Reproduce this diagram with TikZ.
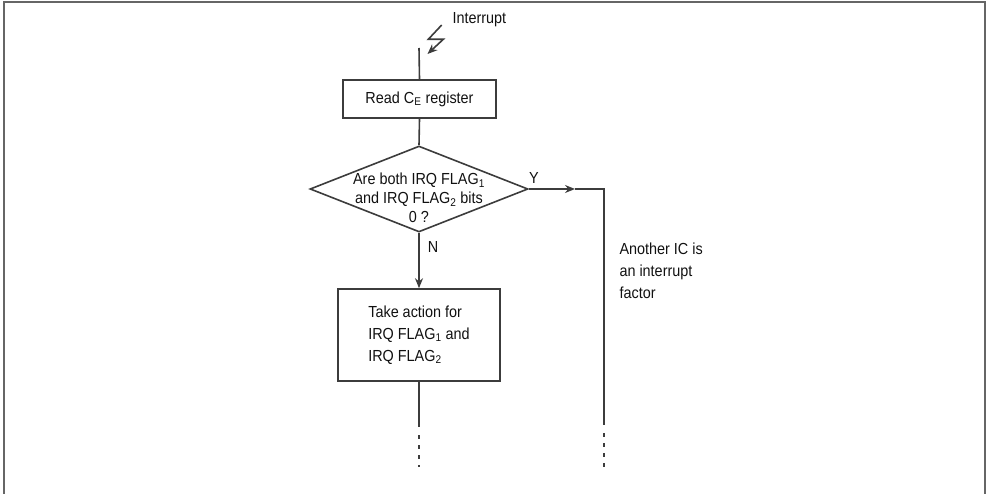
\documentclass[tikz,border=0pt]{standalone}
\usepackage{fontspec}
\setmainfont{Liberation Sans}[FakeStretch=0.9]
\usepackage{xcolor}
\definecolor{flowLine}{HTML}{3C3C3C}
\definecolor{flowFrame}{HTML}{666666}
\definecolor{flowText}{HTML}{111111}
\usetikzlibrary{shapes.geometric,arrows.meta}

\tikzset{
  flowTxt/.style={text=flowText, font=\fontsize{16}{22}\selectfont},
  procBox/.style={draw=flowLine, line width=1.6pt, rectangle, inner sep=0pt, flowTxt},
  decBox/.style={draw=flowLine, line width=1.6pt, diamond, inner sep=0pt},
  conn/.style={draw=flowLine, line width=1.6pt},
  tip/.style={-{Stealth[length=10pt,width=8pt]}},
  dashEnd/.style={conn, dash pattern=on 4pt off 6pt}
}

\begin{document}
\begin{tikzpicture}[x=1pt, y=-1pt]
  \useasboundingbox (0,0) rectangle (987,494);
  % open frame
  \draw[flowFrame, line width=2.5pt] (4,494) -- (4,2) -- (985,2) -- (985,494);

  % interrupt entry
  \node[flowTxt, anchor=west] (intr) at (449,20) {Interrupt};
  \draw[conn, tip] (441.7,25) -- (428.3,39.3) -- (443.3,39.3) -- (427.5,54);
  \coordinate (entry) at (419,48);

  % boxes
  \node[procBox, minimum width=153pt, minimum height=38pt] (readCE) at (419.5,99) {Read C\textsubscript{E} register};
  \node[decBox, minimum width=218pt, minimum height=86pt,
        label={[flowTxt, font=\fontsize{16}{19}\selectfont, align=center, yshift=-9pt]center:Are both IRQ FLAG\textsubscript{1}\\and IRQ FLAG\textsubscript{2} bits\\0 ?}] (bothZero) at (419,189) {};
  \node[procBox, minimum width=162pt, minimum height=92pt, align=left] (action) at (419,335)
    {Take action for\\IRQ FLAG\textsubscript{1} and\\IRQ FLAG\textsubscript{2}};
  \node[flowTxt, anchor=west, align=left] (otherIC) at (616,271) {Another IC is\\an interrupt\\factor};

  % branch labels
  \node[flowTxt] (yesLbl) at (534,178) {Y};
  \node[flowTxt] (noLbl) at (433,247) {N};

  \coordinate (yesMid) at (575,189);
  \coordinate (yesCorner) at (604,189);
  \coordinate (yesSolid) at (604,425);
  \coordinate (yesEnd) at (604,467);
  \coordinate (noSolid) at (419,427);
  \coordinate (noEnd) at (419,467);

  % connectors
  \draw[conn] (entry) -- (readCE.north);
  \draw[conn] (readCE.south) -- (bothZero.north);
  \draw[conn, tip] (bothZero.south) -- (action.north);
  \draw[conn, tip] (bothZero.east) -- (yesMid);
  \draw[conn] (yesMid) -- (yesCorner) -- (yesSolid);
  \draw[dashEnd] (yesSolid) ++(0,8) -- (yesEnd);
  \draw[conn] (action.south) -- (noSolid);
  \draw[dashEnd] (noSolid) ++(0,8) -- (noEnd);
\end{tikzpicture}
\end{document}
